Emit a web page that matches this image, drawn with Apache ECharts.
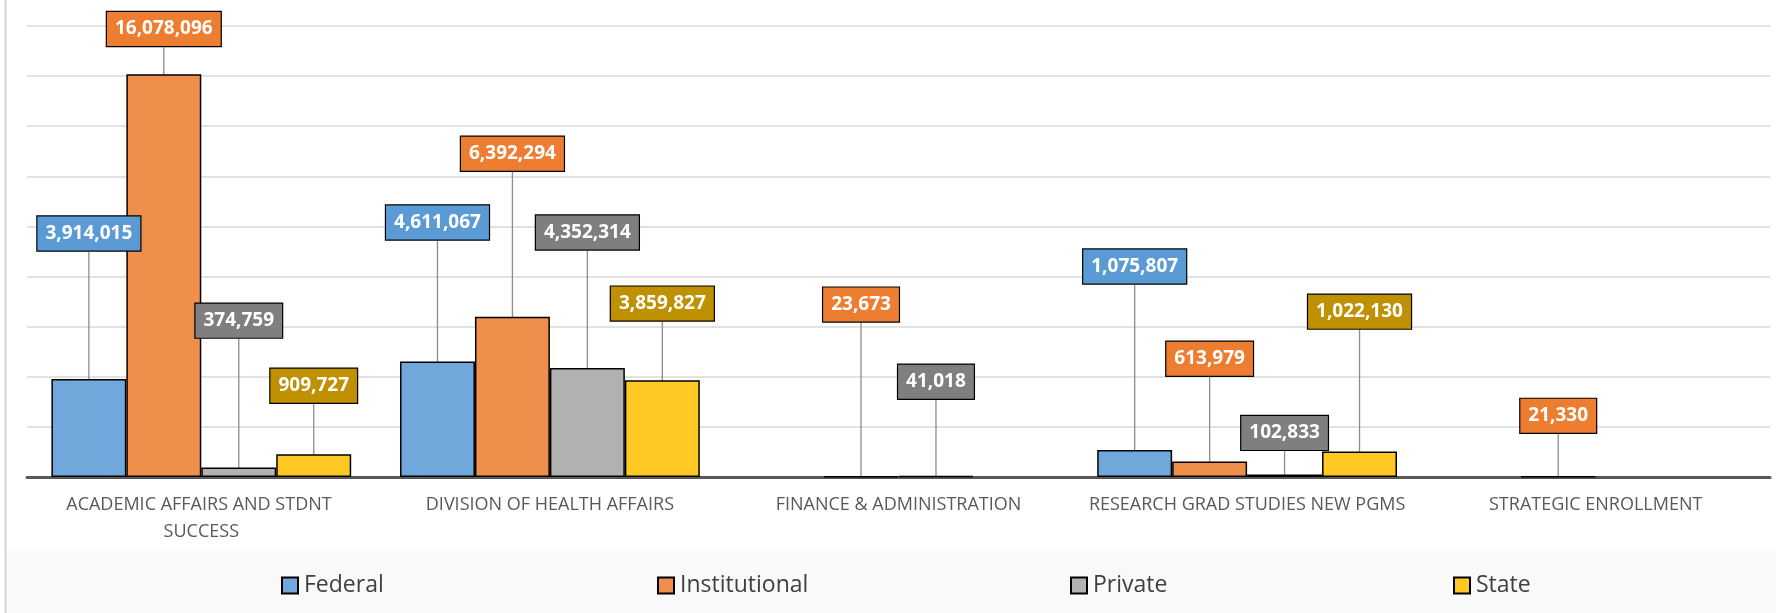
<!DOCTYPE html>
<html><head><meta charset="utf-8">
<script src="https://cdn.jsdelivr.net/npm/echarts@6/dist/echarts.min.js"></script>
<style>html,body{margin:0;padding:0;background:#fff}#c{width:1776px;height:613px}</style>
</head><body><div id="c"></div><script>
const categories = ['ACADEMIC AFFAIRS AND STDNT SUCCESS','DIVISION OF HEALTH AFFAIRS','FINANCE & ADMINISTRATION','RESEARCH GRAD STUDIES NEW PGMS','STRATEGIC ENROLLMENT'];
const seriesNames = ['Federal','Institutional','Private','State'];
const federal = [3914015, 4611067, null, 1075807, null];
const institutional = [16078096, 6392294, 23673, 613979, 21330];
const privateVals = [374759, 4352314, 41018, 102833, null];
const state = [909727, 3859827, null, 1022130, null];
const yMin = 0, yMax = 18000000, yInterval = 2000000;
// value level at which each callout box is centred (manual placement in the reference)
const calloutFederal = [9720000, 10160000, null, 8400000, null];
const calloutInstitutional = [17880000, 12900000, 6880000, 4720000, 2440000];
const calloutPrivate = [6240000, 9760000, 3800000, 1760000, null];
const calloutState = [3640000, 6920000, null, 6600000, null];

const values = [federal, institutional, privateVals, state];
const callouts = [calloutFederal, calloutInstitutional, calloutPrivate, calloutState];
const barColors = ['#70A8DC', '#EF8F4C', '#B2B2B2', '#FFC823'];
const boxColors = ['#5B9BD5', '#ED7D31', '#7F7F7F', '#BF9000'];
const legendLeft = [281, 657, 1070, 1453];
const FONT = "'Open Sans', 'Noto Sans', sans-serif";

const chart = echarts.init(document.getElementById('c'), null, {renderer: 'canvas'});

function makeSeries(i) {
  return {
    name: seriesNames[i],
    type: 'bar',
    data: values[i],
    barGap: '0%',
    barCategoryGap: '14%',
    itemStyle: {color: barColors[i], borderColor: '#000', borderWidth: 1.5},
    label: {
      show: true,
      position: 'top',
      formatter: p => Number(p.value).toLocaleString('en-US'),
      color: '#fff',
      fontFamily: FONT,
      fontWeight: 'bold',
      fontSize: 19,
      lineHeight: 22,
      backgroundColor: boxColors[i],
      borderColor: '#000',
      borderWidth: 1.2,
      padding: [6, 8, 6, 8]
    },
    labelLine: {show: true, lineStyle: {color: '#8C8C8C', width: 1.3}},
    labelLayout: function (params) {
      const lvl = callouts[i][params.dataIndex];
      if (lvl == null) return {};
      let y;
      try { y = chart.convertToPixel({yAxisIndex: 0}, lvl); } catch (e) { y = null; }
      if (y == null || isNaN(y)) return {};
      return {y: y, verticalAlign: 'middle', align: 'center', x: params.rect.x + params.rect.width / 2};
    },
    emphasis: {disabled: true}
  };
}

const legends = seriesNames.map((n, i) => ({
  data: [n],
  left: legendLeft[i],
  top: 574,
  padding: 0,
  itemWidth: 16,
  itemHeight: 16,
  icon: 'rect',
  selectedMode: false,
  textStyle: {fontFamily: FONT, fontSize: 23, color: '#404040', padding: [0, 0, 0, 1]}
}));

chart.setOption({
  animation: false,
  backgroundColor: '#fff',
  graphic: [
    {type: 'rect', z: -10, shape: {x: 7, y: 549, width: 1769, height: 64}, style: {fill: '#F9F9F9'}},
    {type: 'line', z: -10, shape: {x1: 5.5, y1: 0, x2: 5.5, y2: 613}, style: {stroke: '#D3D3D3', lineWidth: 2}}
  ],
  grid: {left: 27, right: 6, top: 26, bottom: 136, containLabel: false},
  legend: legends,
  xAxis: {
    type: 'category',
    data: categories,
    axisTick: {show: false},
    axisLine: {lineStyle: {color: '#595959', width: 3}},
    axisLabel: {
      interval: 0,
      color: '#595959',
      fontFamily: FONT,
      fontSize: 18,
      lineHeight: 27,
      margin: 14,
      width: 340,
      overflow: 'break'
    }
  },
  yAxis: {
    type: 'value',
    min: yMin, max: yMax, interval: yInterval,
    axisLabel: {show: false},
    axisLine: {show: false},
    axisTick: {show: false},
    splitLine: {lineStyle: {color: '#D9D9D9', width: 1.5}}
  },
  series: [0, 1, 2, 3].map(makeSeries)
});
</script></body></html>
